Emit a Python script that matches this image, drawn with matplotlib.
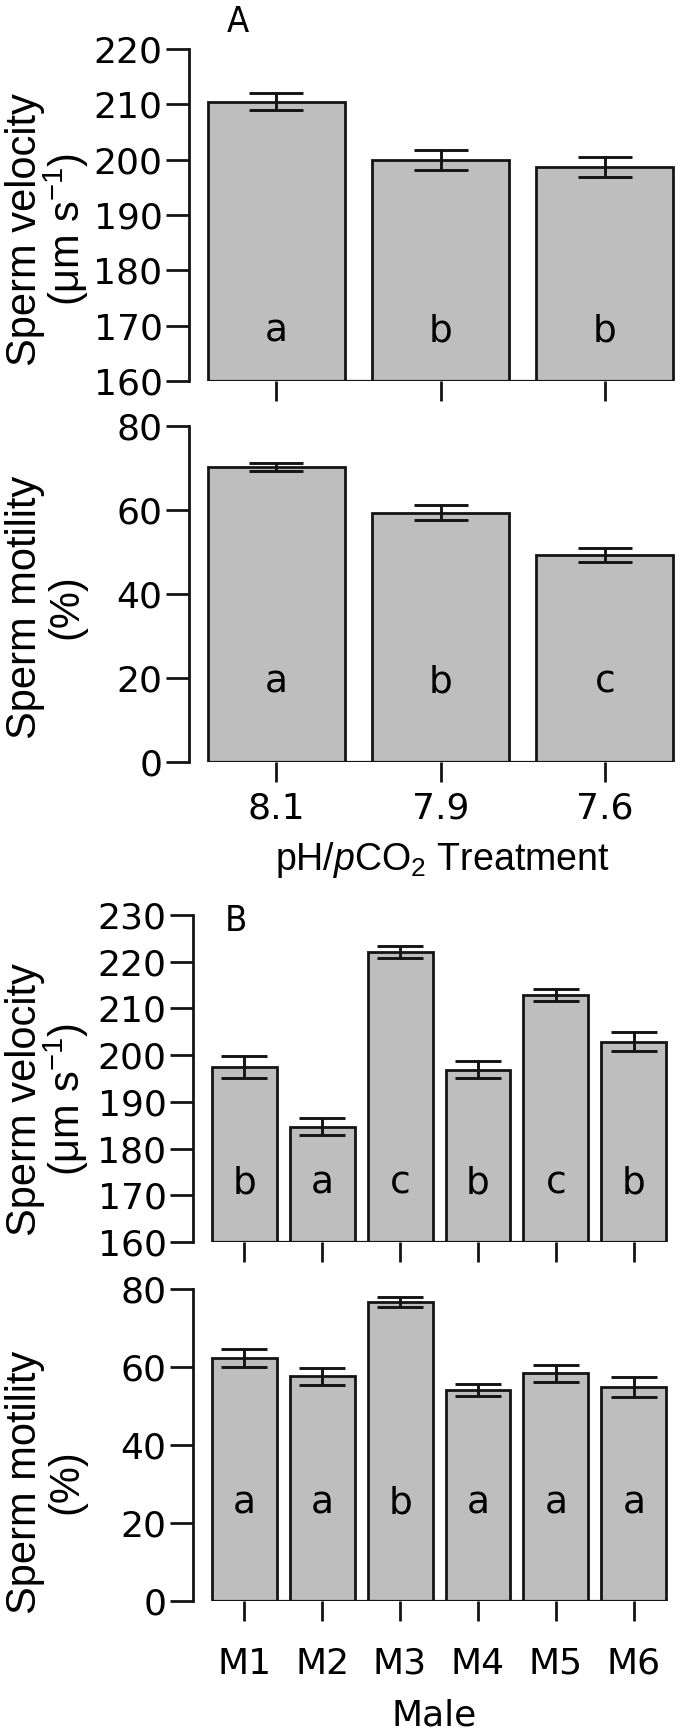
import numpy as np
import matplotlib
matplotlib.use("Agg")
import matplotlib.pyplot as plt

plt.rcParams['font.family'] = ['DejaVu Sans']
plt.rcParams['mathtext.fontset'] = 'custom'
plt.rcParams['mathtext.rm'] = 'Liberation Sans'
plt.rcParams['mathtext.it'] = 'Liberation Sans:italic'

# panel A: treatment
treatments = ['8.1', '7.9', '7.6']
vel_a = np.array([210.5, 199.9, 198.7])
vel_a_se = np.array([1.6, 1.8, 1.8])
vel_a_groups = ['a', 'b', 'b']
mot_a = np.array([70.3, 59.4, 49.2])
mot_a_se = np.array([0.9, 1.7, 1.7])
mot_a_groups = ['a', 'b', 'c']

# panel B: male
males = ['M1', 'M2', 'M3', 'M4', 'M5', 'M6']
vel_b = np.array([197.4, 184.7, 222.1, 196.9, 212.8, 202.9])
vel_b_se = np.array([2.4, 1.8, 1.3, 1.8, 1.3, 2.1])
vel_b_groups = ['b', 'a', 'c', 'b', 'c', 'b']
mot_b = np.array([62.3, 57.6, 76.6, 54.1, 58.4, 54.9])
mot_b_se = np.array([2.4, 2.2, 1.3, 1.5, 2.2, 2.5])
mot_b_groups = ['a', 'a', 'b', 'a', 'a', 'a']

W, H = 683, 1736
FILL = '#bebebe'
DARK = '#141414'
FS = 26
LAB = ['Liberation Sans', 'DejaVu Sans']
LW = 2.0

fig = plt.figure(figsize=(W / 100, H / 100), dpi=100)


def px_axes(left, right, top, bottom):
    return fig.add_axes([left / W, 1 - bottom / H, (right - left) / W, (bottom - top) / H])


def bar_panel(ax, vals, se, groups, ylo, yhi, ystep, letter_y, cap, xlim):
    n = len(vals)
    x = 0.7 + 1.2 * np.arange(n)  # R barplot default spacing
    ax.bar(x, vals - ylo, bottom=ylo, width=1.0, color=FILL, edgecolor=DARK, linewidth=LW, zorder=2)
    ax.hlines(ylo, x[0] - 0.5, x[-1] + 0.5, color=DARK, linewidth=LW + 0.3, zorder=3)
    ax.errorbar(x, vals, yerr=se, fmt='none', ecolor=DARK, elinewidth=2.1,
                capsize=cap, capthick=2.1, zorder=4)
    for xi, g in zip(x, groups):
        ax.text(xi, letter_y, g, ha='center', va='center', fontsize=FS + 1, color='black')
    ax.set_xlim(*xlim)
    ax.set_ylim(ylo, yhi)
    ax.set_yticks(np.arange(ylo, yhi + 0.1, ystep))
    ax.set_xticks(x)
    for s in ['top', 'right', 'bottom']:
        ax.spines[s].set_visible(False)
    ax.spines['left'].set_bounds(ylo, yhi)
    ax.spines['left'].set_linewidth(LW)
    ax.spines['left'].set_color(DARK)
    ax.tick_params(axis='y', length=16.5, width=LW, pad=2.5, labelsize=FS, color=DARK)
    ax.tick_params(axis='x', length=14.4, width=LW, labelsize=FS, color=DARK)
    ax.patch.set_alpha(0)
    return x


def ylab(text1, text2, ycenter):
    fig.text(25 / W, 1 - ycenter / H, text1, rotation=90, ha='center', va='center',
             fontsize=30, family=LAB)
    fig.text(66 / W, 1 - ycenter / H, text2, rotation=90, ha='center', va='center',
             fontsize=30, family=LAB)


# ---- panel A ----
ax1 = px_axes(189, 692, 49, 381)
bar_panel(ax1, vel_a, vel_a_se, vel_a_groups, 160, 220, 10, 169, 19.5, (0.064, 3.736))
ax1.tick_params(axis='x', labelbottom=False)

ax2 = px_axes(189, 692, 426, 762)
bar_panel(ax2, mot_a, mot_a_se, mot_a_groups, 0, 80, 20, 19, 19.5, (0.064, 3.736))
ax2.set_xticklabels(treatments)
ax2.tick_params(axis='x', pad=7)

ylab('Sperm velocity', r'(μm s$^{-1}$)', 230)
ylab('Sperm motility', '(%)', 607)
fig.text(442 / W, 1 - 860 / H, r'pH/$\mathit{p}$CO$_2$ Treatment', ha='center', va='center',
         fontsize=27, family=LAB)
fig.text(238 / W, 1 - 22 / H, 'A', ha='center', va='center', fontsize=26,
         family=['DejaVu Sans'], stretch='condensed')

# ---- panel B ----
ax3 = px_axes(193, 698, 915, 1242)
bar_panel(ax3, vel_b, vel_b_se, vel_b_groups, 160, 230, 10, 172.5, 16.5, (-0.088, 7.688))
ax3.tick_params(axis='x', labelbottom=False)

ax4 = px_axes(193, 698, 1289, 1601)
bar_panel(ax4, mot_b, mot_b_se, mot_b_groups, 0, 80, 20, 25, 16.5, (-0.088, 7.688))
ax4.set_xticklabels(males)
ax4.tick_params(axis='x', pad=18.5)

ylab('Sperm velocity', r'(μm s$^{-1}$)', 1100)
ylab('Sperm motility', '(%)', 1482)
fig.text(434 / W, 1 - 1715 / H, 'Male', ha='center', va='center', fontsize=FS)
fig.text(236 / W, 1 - 921 / H, 'B', ha='center', va='center', fontsize=26,
         family=['DejaVu Sans'], stretch='condensed')

fig.savefig('out.png', dpi=100)
